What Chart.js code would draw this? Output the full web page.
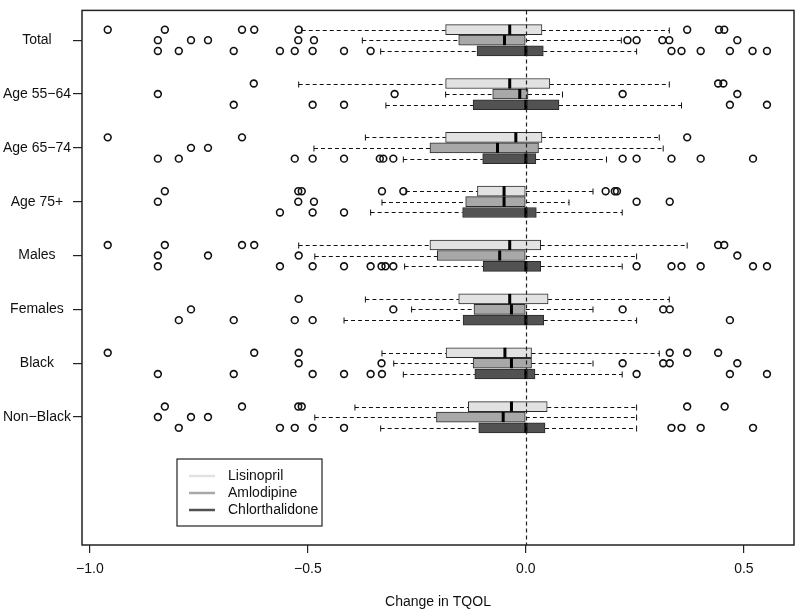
<!DOCTYPE html>
<html>
<head>
<meta charset="utf-8">
<script src="https://cdn.jsdelivr.net/npm/chart.js@4/dist/chart.umd.min.js"></script>
<style>
  html, body { margin: 0; padding: 0; background: #fff; }
</style>
</head>
<body>
<canvas id="tqolChart" width="800" height="616"></canvas>
<script>
// categories and series
const groups = ['Total', 'Age 55\u221264', 'Age 65\u221274', 'Age 75+', 'Males', 'Females', 'Black', 'Non\u2212Black'];
const drugs = ['Lisinopril', 'Amlodipine', 'Chlorthalidone'];
const xTicks = [-1.0, -0.5, 0.0, 0.5];

// Lisinopril
const lisLow  = [-0.514, -0.521, -0.368, -0.275, -0.521, -0.368, -0.330, -0.392];
const lisQ1   = [-0.184, -0.184, -0.184, -0.111, -0.220, -0.154, -0.183, -0.132];
const lisMed  = [-0.037, -0.037, -0.023, -0.050, -0.037, -0.037, -0.048, -0.033];
const lisQ3   = [0.037, 0.055, 0.037, 0.000, 0.034, 0.051, 0.013, 0.049];
const lisHigh = [0.329, 0.329, 0.306, 0.154, 0.370, 0.329, 0.306, 0.254];
const lisOut = [
  [-0.959, -0.828, -0.651, -0.623, -0.521, 0.370, 0.443, 0.455],
  [-0.624, 0.441, 0.453],
  [-0.959, -0.651, 0.370],
  [-0.828, -0.522, -0.514, -0.330, -0.281, 0.183, 0.204, 0.209],
  [-0.959, -0.828, -0.651, -0.623, 0.441, 0.455],
  [-0.521],
  [-0.959, -0.623, -0.521, 0.330, 0.370, 0.441],
  [-0.828, -0.651, -0.522, -0.514, 0.370, 0.456]
];

// Amlodipine
const amlLow  = [-0.375, -0.184, -0.486, -0.330, -0.484, -0.262, -0.303, -0.484];
const amlQ1   = [-0.154, -0.076, -0.220, -0.138, -0.203, -0.119, -0.121, -0.205];
const amlMed  = [-0.049, -0.014, -0.065, -0.050, -0.060, -0.033, -0.033, -0.052];
const amlQ3   = [0.000, 0.005, 0.029, 0.000, 0.000, 0.000, 0.013, 0.000];
const amlHigh = [0.219, 0.084, 0.315, 0.099, 0.254, 0.154, 0.154, 0.254];
const amlOut = [
  [-0.844, -0.768, -0.729, -0.522, -0.486, 0.233, 0.254, 0.313, 0.329, 0.485],
  [-0.844, -0.301, 0.222, 0.485],
  [-0.768, -0.729],
  [-0.844, -0.522, -0.486, 0.254, 0.330],
  [-0.844, -0.729, -0.521, 0.485],
  [-0.768, -0.304, 0.222, 0.315, 0.330],
  [-0.521, -0.331, 0.222, 0.315, 0.330, 0.485],
  [-0.844, -0.768, -0.729]
];

// Chlorthalidone
const chlLow  = [-0.333, -0.321, -0.281, -0.356, -0.278, -0.417, -0.281, -0.333];
const chlQ1   = [-0.112, -0.121, -0.099, -0.145, -0.098, -0.144, -0.117, -0.108];
const chlMed  = [0, 0, 0, 0, 0, 0, 0, 0];
const chlQ3   = [0.040, 0.076, 0.023, 0.024, 0.034, 0.041, 0.021, 0.044];
const chlHigh = [0.254, 0.357, 0.185, 0.221, 0.221, 0.254, 0.221, 0.254];
const chlOut = [
  [-0.844, -0.796, -0.670, -0.564, -0.530, -0.489, -0.417, -0.356, 0.334, 0.357, 0.401, 0.468, 0.520, 0.553],
  [-0.670, -0.489, -0.417, 0.468, 0.553],
  [-0.844, -0.796, -0.530, -0.489, -0.417, -0.335, -0.327, -0.304, 0.222, 0.254, 0.334, 0.401, 0.521],
  [-0.564, -0.489, -0.417],
  [-0.844, -0.564, -0.489, -0.417, -0.356, -0.331, -0.322, -0.304, 0.254, 0.334, 0.357, 0.401, 0.521, 0.553],
  [-0.796, -0.670, -0.530, -0.489, 0.468],
  [-0.844, -0.670, -0.489, -0.417, -0.356, -0.330, 0.254, 0.468, 0.553],
  [-0.796, -0.564, -0.530, -0.489, -0.417, 0.334, 0.357, 0.401, 0.521]
];

const lows = [lisLow, amlLow, chlLow];
const q1s = [lisQ1, amlQ1, chlQ1];
const meds = [lisMed, amlMed, chlMed];
const q3s = [lisQ3, amlQ3, chlQ3];
const highs = [lisHigh, amlHigh, chlHigh];
const outs = [lisOut, amlOut, chlOut];

const drugColors = ['#e2e2e2', '#a8a8a8', '#525252'];
const rowOffset = [-0.195, 0, 0.2];
const fontFamily = '"Liberation Sans", Arial, Helvetica, sans-serif';

const datasets = [];
drugs.forEach((name, d) => {
  datasets.push({
    type: 'bar',
    label: name,
    indexAxis: 'y',
    data: groups.map((g, i) => ({ x: [q1s[d][i], q3s[d][i]], y: i + rowOffset[d] })),
    backgroundColor: drugColors[d],
    borderColor: '#2a2a2a',
    borderWidth: 1,
    borderSkipped: false,
    barThickness: 10,
    grouped: false,
    order: 2
  });
});
drugs.forEach((name, d) => {
  const pts = [];
  outs[d].forEach((arr, i) => arr.forEach(v => pts.push({ x: v, y: i + rowOffset[d] })));
  datasets.push({
    type: 'scatter',
    label: name + ' outliers',
    data: pts,
    pointRadius: 3.4,
    pointBorderWidth: 1.6,
    pointBorderColor: '#111',
    pointBackgroundColor: 'rgba(0,0,0,0)',
    showLine: false,
    order: 0
  });
});

// whiskers, medians, zero line, frame and legend
const boxPlotExtras = {
  id: 'boxPlotExtras',
  beforeDatasetsDraw(chart) {
    const { ctx, scales: { x, y } } = chart;
    ctx.save();
    ctx.strokeStyle = '#111';
    ctx.lineWidth = 1;
    drugs.forEach((name, d) => {
      groups.forEach((g, i) => {
        const py = Math.round(y.getPixelForValue(i + rowOffset[d])) + 0.5;
        const xl = x.getPixelForValue(lows[d][i]);
        const x1 = x.getPixelForValue(q1s[d][i]);
        const x3 = x.getPixelForValue(q3s[d][i]);
        const xh = x.getPixelForValue(highs[d][i]);
        ctx.setLineDash([4, 3]);
        ctx.beginPath();
        ctx.moveTo(xl, py); ctx.lineTo(x1, py);
        ctx.moveTo(x3, py); ctx.lineTo(xh, py);
        ctx.stroke();
        ctx.setLineDash([]);
        ctx.beginPath();
        ctx.moveTo(xl, py - 3); ctx.lineTo(xl, py + 3);
        ctx.moveTo(xh, py - 3); ctx.lineTo(xh, py + 3);
        ctx.stroke();
      });
    });
    ctx.restore();
  },
  afterDatasetsDraw(chart) {
    const { ctx, chartArea: area, scales: { x, y } } = chart;
    ctx.save();
    // medians
    ctx.strokeStyle = '#000';
    ctx.lineWidth = 3;
    drugs.forEach((name, d) => {
      groups.forEach((g, i) => {
        const py = y.getPixelForValue(i + rowOffset[d]);
        const xm = x.getPixelForValue(meds[d][i]);
        ctx.beginPath();
        ctx.moveTo(xm, py - 5); ctx.lineTo(xm, py + 5);
        ctx.stroke();
      });
    });
    // dashed reference line at 0
    const x0 = Math.round(x.getPixelForValue(0)) + 0.5;
    ctx.lineWidth = 1.2;
    ctx.strokeStyle = '#222';
    ctx.setLineDash([4, 3]);
    ctx.beginPath();
    ctx.moveTo(x0, area.top); ctx.lineTo(x0, area.bottom);
    ctx.stroke();
    ctx.setLineDash([]);
    // frame
    ctx.lineWidth = 1.5;
    ctx.strokeStyle = '#222';
    ctx.strokeRect(area.left, area.top, area.right - area.left, area.bottom - area.top);
    // legend
    const lx = area.left + 95, ly = area.bottom - 86;
    ctx.fillStyle = '#fff';
    ctx.fillRect(lx, ly, 145, 67);
    ctx.lineWidth = 1.2;
    ctx.strokeRect(lx, ly, 145, 67);
    ctx.font = '14px ' + fontFamily;
    ctx.textBaseline = 'middle';
    ctx.textAlign = 'left';
    drugs.forEach((name, d) => {
      const ry = ly + 17 + d * 17;
      ctx.strokeStyle = drugColors[d];
      ctx.lineWidth = 2.5;
      ctx.beginPath();
      ctx.moveTo(lx + 12, ry); ctx.lineTo(lx + 38, ry);
      ctx.stroke();
      ctx.fillStyle = '#111';
      ctx.fillText(name, lx + 51, ry);
    });
    ctx.restore();
  }
};

new Chart(document.getElementById('tqolChart'), {
  type: 'scatter',
  data: { datasets: datasets },
  options: {
    responsive: false,
    animation: false,
    events: [],
    layout: { padding: { left: 0, right: 6, top: 6, bottom: 0 } },
    plugins: {
      legend: { display: false },
      tooltip: { enabled: false }
    },
    scales: {
      x: {
        type: 'linear',
        position: 'bottom',
        offset: false,
        min: -1.018,
        max: 0.615,
        afterBuildTicks: scale => { scale.ticks = xTicks.map(v => ({ value: v })); },
        afterFit: scale => { scale.height = 71; },
        border: { display: false },
        grid: { offset: false, drawOnChartArea: false, drawTicks: true, tickLength: 8, color: '#222', lineWidth: 1.2 },
        ticks: {
          padding: 8,
          color: '#111',
          font: { family: fontFamily, size: 14 },
          callback: v => (v < 0 ? '\u2212' : '') + Math.abs(v).toFixed(1)
        },
        title: {
          display: true,
          text: 'Change in TQOL',
          color: '#111',
          font: { family: fontFamily, size: 14 },
          padding: { top: 0, bottom: 5 }
        }
      },
      y: {
        type: 'linear',
        reverse: true,
        offset: false,
        min: -0.553,
        max: 9.376,
        afterBuildTicks: scale => { scale.ticks = groups.map((g, i) => ({ value: i })); },
        afterFit: scale => { scale.width = 82; },
        border: { display: false },
        grid: { offset: false, drawOnChartArea: false, drawTicks: true, tickLength: 9, color: '#222', lineWidth: 1.2 },
        ticks: {
          padding: 2,
          crossAlign: 'center',
          color: '#111',
          font: { family: fontFamily, size: 14 },
          callback: (v, i) => groups[i]
        }
      }
    }
  },
  plugins: [boxPlotExtras]
});
</script>
</body>
</html>
